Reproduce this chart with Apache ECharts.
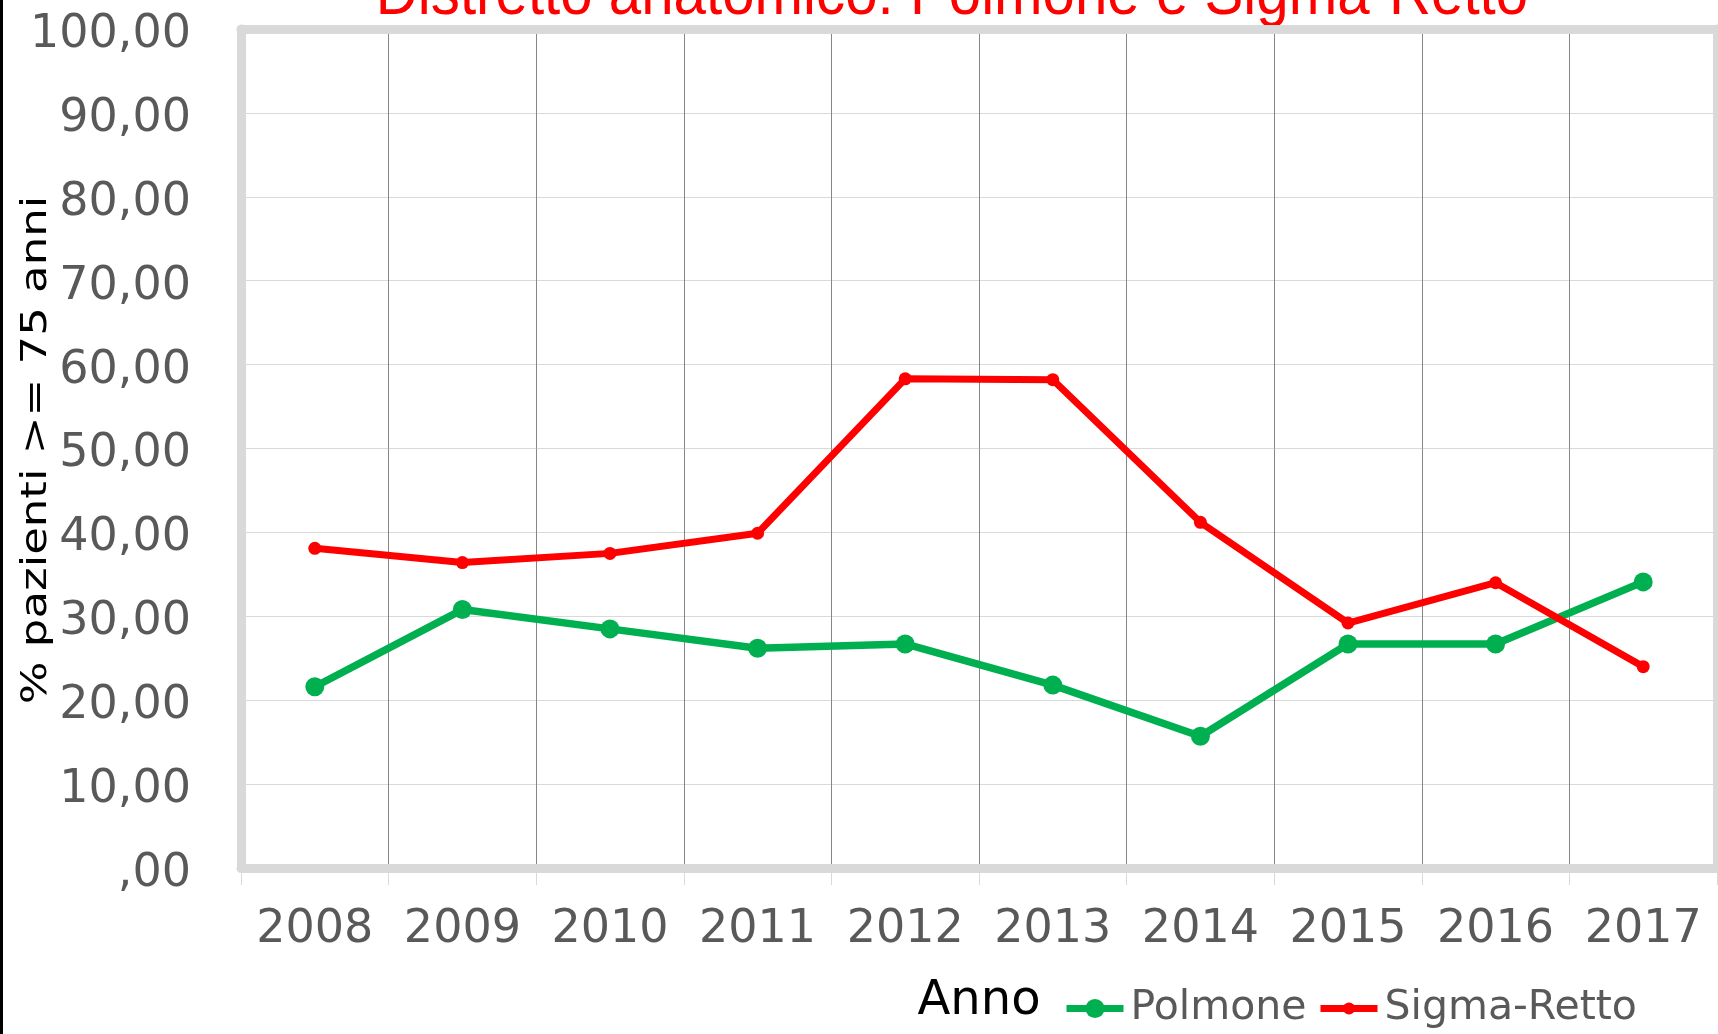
<!DOCTYPE html>
<html>
<head>
<meta charset="utf-8">
<script src="https://cdn.jsdelivr.net/npm/echarts@6/dist/echarts.min.js"></script>
<style>
  html, body { margin: 0; padding: 0; background: #fff; }
  #chart { width: 1718px; height: 1034px; }
</style>
</head>
<body>
<div id="chart"></div>
<script>
// dati
const years = ["2008", "2009", "2010", "2011", "2012", "2013", "2014", "2015", "2016", "2017"];
const polmone = [21.6, 30.8, 28.5, 26.2, 26.7, 21.8, 15.7, 26.7, 26.7, 34.1];
const sigmaRetto = [38.1, 36.4, 37.5, 39.9, 58.3, 58.2, 41.2, 29.2, 34.0, 24.0];
const yTickLabels = [",00", "10,00", "20,00", "30,00", "40,00", "50,00", "60,00", "70,00", "80,00", "90,00", "100,00"];

const labelColor = "#595959";
const frameColor = "#d9d9d9";
const font = "DejaVu Sans";

// assi "cornice": solo la linea spessa grigia
const frameX = (pos) => ({
  type: "value", position: pos, min: 0, max: 1, z: 1,
  axisLine: { show: true, onZero: false, lineStyle: { color: frameColor, width: 9 } },
  axisTick: { show: false }, axisLabel: { show: false }, splitLine: { show: false },
});
const frameY = (pos) => ({
  type: "value", position: pos, min: 0, max: 100, z: 1,
  axisLine: { show: true, onZero: false, lineStyle: { color: frameColor, width: 9 } },
  axisTick: { show: false }, axisLabel: { show: false }, splitLine: { show: false },
});

const legendBase = {
  top: 988,
  padding: 0,
  itemWidth: 57,
  lineStyle: { width: 7 },
  textStyle: { fontSize: 41, color: labelColor, fontFamily: font, padding: [0, 0, 0, 2] },
};

const option = {
  animation: false,
  backgroundColor: "#fff",
  grid: { left: 241, right: 1, top: 29, bottom: 166 },
  xAxis: [
    {
      type: "category",
      data: years,
      boundaryGap: true,
      axisLine: { show: false, onZero: false },
      axisTick: { show: true, interval: 0, length: 17, lineStyle: { color: frameColor, width: 1 } },
      axisLabel: { interval: 0, margin: 39, color: labelColor, fontSize: 46, fontFamily: font },
      splitLine: { show: true, interval: 0, lineStyle: { color: "#868686", width: 1 } },
      name: "Anno",
      nameLocation: "middle",
      nameGap: 110,
      nameTextStyle: { color: "#000", fontSize: 48, fontFamily: font },
    },
    frameX("top"),
    frameX("bottom"),
  ],
  yAxis: [
    {
      type: "value",
      min: 0,
      max: 100,
      interval: 10,
      axisLine: { show: false },
      axisTick: { show: false },
      axisLabel: {
        margin: 50,
        color: labelColor,
        fontSize: 46,
        fontFamily: font,
        verticalAlign: "top",
        lineHeight: 12,
        formatter: (v) => yTickLabels[Math.round(v / 10)],
      },
      splitLine: { lineStyle: { color: frameColor, width: 1 } },
    },
    frameY("left"),
    frameY("right"),
  ],
  legend: [
    Object.assign({}, legendBase, { data: ["Polmone"], left: 1063, itemHeight: 24 }),
    Object.assign({}, legendBase, { data: ["Sigma-Retto"], left: 1317, itemHeight: 15 }),
  ],
  series: [
    {
      name: "Polmone",
      type: "line",
      data: polmone,
      xAxisIndex: 0,
      yAxisIndex: 0,
      symbol: "circle",
      symbolSize: 19,
      color: "#00b050",
      lineStyle: { width: 7.5, color: "#00b050" },
    },
    {
      name: "Sigma-Retto",
      type: "line",
      data: sigmaRetto,
      xAxisIndex: 0,
      yAxisIndex: 0,
      symbol: "circle",
      symbolSize: 13,
      color: "#ff0000",
      lineStyle: { width: 7, color: "#ff0000" },
    },
  ],
  graphic: [
    { type: "rect", left: 0, top: 0, shape: { width: 3, height: 1034 }, style: { fill: "#000" } },
    {
      type: "text",
      x: 952,
      y: -4,
      scaleX: 0.91,
      style: {
        text: "Distretto anatomico: Polmone e Sigma-Retto",
        fill: "#ff0000",
        font: '64px "Liberation Sans", sans-serif',
        textAlign: "center",
        textVerticalAlign: "middle",
      },
    },
    {
      type: "text",
      x: 37,
      y: 450,
      rotation: Math.PI / 2,
      scaleX: 1.25,
      style: {
        text: "% pazienti >= 75 anni",
        fill: "#000",
        font: '36px "DejaVu Sans"',
        textAlign: "center",
        textVerticalAlign: "middle",
      },
    },
  ],
};

const myChart = echarts.init(document.getElementById("chart"));
myChart.setOption(option);
window.onresize = () => {
  myChart.resize();
};
</script>
</body>
</html>
